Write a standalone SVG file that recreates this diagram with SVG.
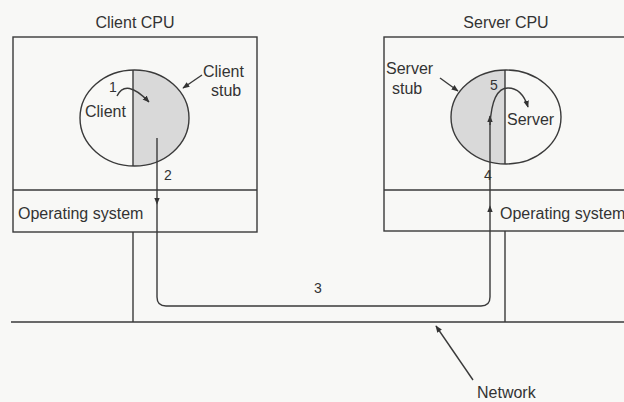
<svg xmlns="http://www.w3.org/2000/svg" width="624" height="402" viewBox="0 0 624 402">
  <style>
    .ln{fill:none;stroke:#3a3a3a;stroke-width:1.4}
    .t{font-family:"Liberation Sans",Arial,sans-serif;font-size:16px;fill:#333}
    .n{font-family:"Liberation Sans",Arial,sans-serif;font-size:14px;fill:#333}
  </style>
  <defs>
    <marker id="ah" viewBox="0 0 10 10" refX="9" refY="5" markerWidth="7" markerHeight="7" orient="auto" markerUnits="userSpaceOnUse">
      <path d="M0,1 L10,5 L0,9 Z" fill="#333"/>
    </marker>
    <clipPath id="cr"><rect x="133" y="60" width="70" height="120"/></clipPath>
    <clipPath id="sl"><rect x="440" y="60" width="65" height="120"/></clipPath>
  </defs>
  <rect width="624" height="402" fill="#f8f8f6"/>

  <g id="client-cpu">
    <text class="t" x="135" y="28" text-anchor="middle">Client CPU</text>
    <rect class="ln" x="13" y="37" width="244" height="195"/>
    <line class="ln" x1="13" y1="190" x2="257" y2="190"/>
    <text class="t" x="18" y="219">Operating system</text>
  </g>
  <g id="client-process">
    <ellipse cx="134.5" cy="118" rx="54.5" ry="48" fill="#d9d9d9" clip-path="url(#cr)"/>
    <ellipse class="ln" cx="134.5" cy="118" rx="54.5" ry="48"/>
    <line class="ln" x1="133" y1="70" x2="133" y2="166"/>
    <text class="t" x="85" y="117">Client</text>
  </g>
  <g id="client-stub-label">
    <text class="t" x="203" y="77">Client</text>
    <text class="t" x="211" y="96">stub</text>
  </g>

  <g id="server-cpu">
    <text class="t" x="506" y="28" text-anchor="middle">Server CPU</text>
    <rect class="ln" x="384" y="37" width="250" height="194"/>
    <line class="ln" x1="384" y1="190" x2="634" y2="190"/>
    <text class="t" x="500" y="219">Operating system</text>
  </g>
  <g id="server-process">
    <ellipse cx="506" cy="117" rx="55" ry="47" fill="#d9d9d9" clip-path="url(#sl)"/>
    <ellipse class="ln" cx="506" cy="117" rx="55" ry="47"/>
    <line class="ln" x1="505" y1="70" x2="505" y2="164"/>
    <text class="t" x="507" y="125">Server</text>
  </g>
  <g id="server-stub-label">
    <text class="t" x="386" y="74">Server</text>
    <text class="t" x="392" y="94">stub</text>
  </g>

  <g id="network">
    <line class="ln" x1="11" y1="322" x2="624" y2="322"/>
    <line class="ln" x1="133" y1="232" x2="133" y2="322"/>
    <line class="ln" x1="505" y1="231" x2="505" y2="322"/>
    <text class="t" x="477" y="398">Network</text>
  </g>

  <g id="connectors">
    <path class="ln" d="M117,96 Q126,78 149,102" marker-end="url(#ah)"/>
    <path class="ln" d="M157,138 L157,204" marker-end="url(#ah)"/>
    <path class="ln" d="M157,204 L157,297 Q157,306 166,306 L481,306 Q490,306 490,297 L490,206" marker-end="url(#ah)"/>
    <path class="ln" d="M490,206 L490,116" marker-end="url(#ah)"/>
    <path class="ln" d="M490,125 Q492,88 508,88 Q522,88 528,107" marker-end="url(#ah)"/>
    <path class="ln" d="M202,75 L183,88" marker-end="url(#ah)"/>
    <path class="ln" d="M440,78 L458,91" marker-end="url(#ah)"/>
    <path class="ln" d="M473,380 L436,326" marker-end="url(#ah)"/>
    <text class="n" x="109" y="92">1</text>
    <text class="n" x="164" y="180">2</text>
    <text class="n" x="314" y="293">3</text>
    <text class="n" x="484" y="180">4</text>
    <text class="n" x="490" y="90">5</text>
  </g>
</svg>
